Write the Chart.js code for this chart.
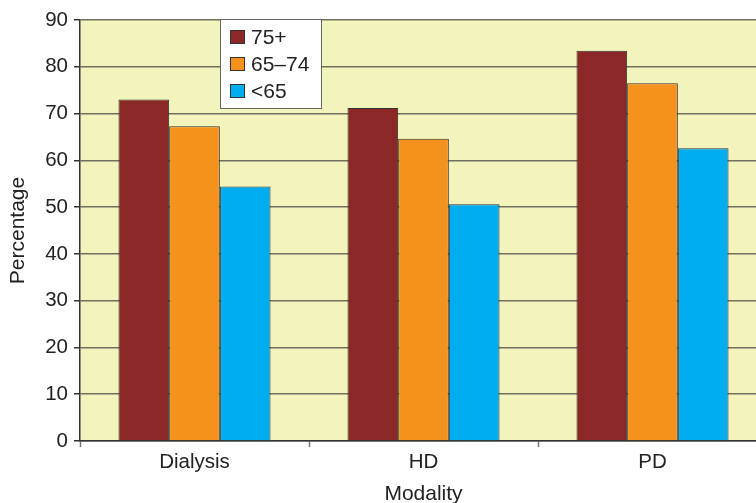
<!DOCTYPE html>
<html>
<head>
<meta charset="utf-8">
<script src="https://cdn.jsdelivr.net/npm/chart.js@4/dist/chart.umd.min.js"></script>
<style>
  html, body { margin: 0; padding: 0; background: #fff; overflow: hidden; width: 756px; height: 503px; }
  #wrap { width: 790px; height: 503px; }
</style>
</head>
<body>
<div id="wrap"><canvas id="bars" width="790" height="503"></canvas></div>
<script>
const modalities = ['Dialysis', 'HD', 'PD'];
const ageGroups = ['75+', '65\u201374', '<65'];
const age75plus = [73.0, 71.2, 83.4];
const age65to74 = [67.3, 64.6, 76.5];
const ageUnder65 = [54.4, 50.6, 62.6];
const yTicks = [0, 10, 20, 30, 40, 50, 60, 70, 80, 90];

const barColors = ['#8b2825', '#f5921e', '#00aeef'];
const fontFamily = '"Liberation Sans", Arial, sans-serif';

const plotBackground = {
    id: 'plotBackground',
    beforeDraw(chart) {
        const { ctx, chartArea: a } = chart;
        ctx.save();
        ctx.fillStyle = '#f2f4bb';
        ctx.fillRect(a.left, a.top, a.right - a.left, a.bottom - a.top);
        ctx.restore();
    }
};

const boxLegend = {
    id: 'boxLegend',
    afterDraw(chart) {
        const ctx = chart.ctx;
        ctx.save();
        ctx.fillStyle = '#ffffff';
        ctx.fillRect(220, 19, 101, 89);
        ctx.strokeStyle = '#666';
        ctx.lineWidth = 1;
        ctx.strokeRect(220.5, 19.5, 101, 89);
        ctx.font = '21px ' + fontFamily;
        ctx.textBaseline = 'middle';
        chart.data.datasets.forEach((ds, i) => {
            const cy = 37 + i * 27;
            ctx.fillStyle = ds.backgroundColor;
            ctx.fillRect(230, cy - 6.5, 14, 13);
            ctx.strokeStyle = '#333';
            ctx.strokeRect(230.5, cy - 6.5, 14, 13);
            ctx.fillStyle = '#222';
            ctx.fillText(ds.label, 251, cy + 1);
        });
        ctx.restore();
    }
};

const seriesValues = [age75plus, age65to74, ageUnder65];

const data = {
    labels: modalities,
    datasets: ageGroups.map((label, i) => ({
        label: label,
        data: seriesValues[i],
        backgroundColor: barColors[i],
        borderColor: '#333',
        borderWidth: 1,
        categoryPercentage: 0.664,
        barPercentage: 1.0
    }))
};

const config = {
    type: 'bar',
    data: data,
    options: {
        responsive: false,
        animation: false,
        layout: { padding: { top: 20, right: 23, left: 0, bottom: 0 } },
        plugins: {
            legend: { display: false },
            tooltip: { enabled: false }
        },
        scales: {
            x: {
                grid: {
                    offset: true,
                    drawOnChartArea: false,
                    tickLength: 6,
                    tickColor: '#777',
                    tickWidth: 1.5
                },
                border: { color: '#333', width: 1.5 },
                ticks: {
                    color: '#222',
                    font: { family: fontFamily, size: 20.5 },
                    padding: 3
                },
                title: {
                    display: true,
                    text: 'Modality',
                    color: '#222',
                    font: { family: fontFamily, size: 21 },
                    padding: { top: 3, bottom: -4 }
                },
                afterFit(scale) { scale.height = 62; }
            },
            y: {
                min: 0,
                max: 90,
                afterBuildTicks(scale) { scale.ticks = yTicks.map(v => ({ value: v })); },
                grid: {
                    color: '#6f6f60',
                    lineWidth: 1.5,
                    tickLength: 6,
                    tickColor: '#333',
                    tickWidth: 1.5
                },
                border: { color: '#333', width: 1.5 },
                ticks: {
                    color: '#222',
                    font: { family: fontFamily, size: 20.5 },
                    padding: 6
                },
                title: {
                    display: true,
                    text: 'Percentage',
                    color: '#222',
                    font: { family: fontFamily, size: 21 },
                    padding: { top: 6, bottom: 0 }
                },
                afterFit(scale) { scale.width = 80; }
            }
        }
    },
    plugins: [plotBackground, boxLegend]
};

new Chart(document.getElementById('bars').getContext('2d'), config);
</script>
</body>
</html>
